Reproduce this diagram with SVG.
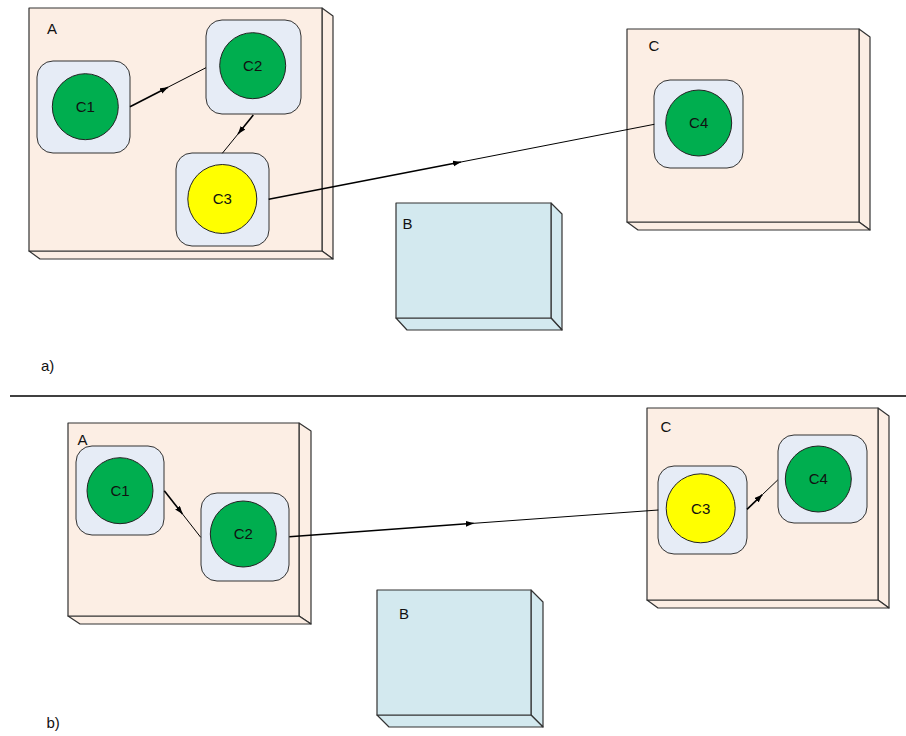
<svg xmlns="http://www.w3.org/2000/svg" width="906" height="736" viewBox="0 0 906 736">
<style>
.box{fill:#FCEEE4;stroke:#333;stroke-width:1.2;stroke-linejoin:round}
.boxb{fill:#D3E9EF;stroke:#333;stroke-width:1.2;stroke-linejoin:round}
.comp{fill:#E6ECF6;stroke:#333;stroke-width:1}
.g{fill:#00AE4F;stroke:#222;stroke-width:1}
.y{fill:#FFFF00;stroke:#222;stroke-width:1}
.t{font-family:"Liberation Sans",Arial,sans-serif;font-size:15px;fill:#111}
.c{text-anchor:middle}
.l1{stroke:#000;stroke-width:1.6;fill:none}
.l2{stroke:#000;stroke-width:1;fill:none}
</style>
<defs>
<marker id="ah" markerUnits="userSpaceOnUse" markerWidth="10" markerHeight="8" refX="8" refY="3" orient="auto">
<path d="M0,0 L8,3 L0,6 z" fill="#000"/>
</marker>
</defs>
<rect width="906" height="736" fill="#fff"/>

<!-- top half -->
<g id="topA">
<path class="box" d="M322,8 L333,16 L333,259 L322,251 Z"/>
<path class="box" d="M29,251 L40,259 L333,259 L322,251 Z"/>
<rect class="box" x="29" y="8" width="293" height="243"/>
<text class="t" x="47" y="34">A</text>
</g>
<g id="topB">
<path class="boxb" d="M551,203 L562,214 L562,330 L551,318 Z"/>
<path class="boxb" d="M396,318 L407,330 L562,330 L551,318 Z"/>
<rect class="boxb" x="396" y="203" width="155" height="115"/>
<text class="t" x="402.5" y="229">B</text>
</g>
<g id="topC">
<path class="box" d="M859,29 L870,37 L870,230 L859,222 Z"/>
<path class="box" d="M627,222 L638,230 L870,230 L859,222 Z"/>
<rect class="box" x="627" y="29" width="232" height="193"/>
<text class="t" x="648.5" y="51">C</text>
</g>
<g id="topC1">
<rect class="comp" x="37" y="61" width="93" height="92" rx="16"/>
<circle class="g" cx="85.3" cy="106.7" r="33"/>
<text class="t c" x="85.3" y="111.9">C1</text>
</g>
<g id="topC2">
<rect class="comp" x="206" y="20" width="95" height="94" rx="16"/>
<circle class="g" cx="252.7" cy="65.7" r="33"/>
<text class="t c" x="252.7" y="70.9">C2</text>
</g>
<g id="topC3">
<rect class="comp" x="176" y="153" width="93" height="93" rx="16"/>
<circle class="y" cx="222.3" cy="199" r="34.5"/>
<text class="t c" x="222.3" y="204.2">C3</text>
</g>
<g id="topC4">
<rect class="comp" x="654" y="80" width="89" height="88" rx="16"/>
<circle class="g" cx="698.7" cy="123" r="33"/>
<text class="t c" x="698.7" y="128.2">C4</text>
</g>
<text class="t" x="41" y="371">a)</text>

<line x1="10" y1="396" x2="906" y2="396" stroke="#000" stroke-width="1.3"/>

<!-- bottom half -->
<g id="botA">
<path class="box" d="M299,423 L311,431 L311,624 L299,616 Z"/>
<path class="box" d="M68,616 L80,624 L311,624 L299,616 Z"/>
<rect class="box" x="68" y="423" width="231" height="193"/>
<text class="t" x="77.5" y="445">A</text>
</g>
<g id="botB">
<path class="boxb" d="M531,590 L543,602 L543,727 L531,715 Z"/>
<path class="boxb" d="M377,715 L389,727 L543,727 L531,715 Z"/>
<rect class="boxb" x="377" y="590" width="154" height="125"/>
<text class="t" x="399" y="619">B</text>
</g>
<g id="botC">
<path class="box" d="M878,408 L889,416 L889,608 L878,600 Z"/>
<path class="box" d="M647,600 L658,608 L889,608 L878,600 Z"/>
<rect class="box" x="647" y="408" width="231" height="192"/>
<text class="t" x="660.5" y="432">C</text>
</g>
<g id="botC1">
<rect class="comp" x="76" y="446" width="88" height="89" rx="16"/>
<circle class="g" cx="120" cy="490.7" r="33"/>
<text class="t c" x="120" y="495.9">C1</text>
</g>
<g id="botC2">
<rect class="comp" x="201" y="493" width="88" height="88" rx="16"/>
<circle class="g" cx="243.3" cy="534" r="33"/>
<text class="t c" x="243.3" y="539.2">C2</text>
</g>
<g id="botC3">
<rect class="comp" x="658" y="466" width="89" height="88" rx="16"/>
<circle class="y" cx="700.7" cy="508.3" r="34.5"/>
<text class="t c" x="700.7" y="513.5">C3</text>
</g>
<g id="botC4">
<rect class="comp" x="778" y="435" width="89" height="88" rx="16"/>
<circle class="g" cx="818.3" cy="479" r="33"/>
<text class="t c" x="818.3" y="484.2">C4</text>
</g>
<text class="t" x="46.5" y="728">b)</text>

<g id="connectors">
<line class="l1" x1="130" y1="106.7" x2="168" y2="87.2" marker-end="url(#ah)"/>
<line class="l2" x1="168" y1="87.2" x2="206" y2="67.7"/>
<line class="l1" x1="253.3" y1="115" x2="238" y2="134" marker-end="url(#ah)"/>
<line class="l2" x1="238" y1="134" x2="222.3" y2="153.3"/>
<line class="l1" x1="268.7" y1="199.3" x2="461" y2="162" marker-end="url(#ah)"/>
<line class="l2" x1="461" y1="162" x2="654.3" y2="124.3"/>
<line class="l1" x1="164.3" y1="490.7" x2="182.5" y2="514" marker-end="url(#ah)"/>
<line class="l2" x1="182.5" y1="514" x2="200.7" y2="537.3"/>
<line class="l1" x1="289.3" y1="536.7" x2="473.8" y2="523.3" marker-end="url(#ah)"/>
<line class="l2" x1="473.8" y1="523.3" x2="658.3" y2="510"/>
<line class="l1" x1="747" y1="509.3" x2="762.3" y2="494.7" marker-end="url(#ah)"/>
<line class="l2" x1="762.3" y1="494.7" x2="777.7" y2="480"/>
</g>
</svg>
